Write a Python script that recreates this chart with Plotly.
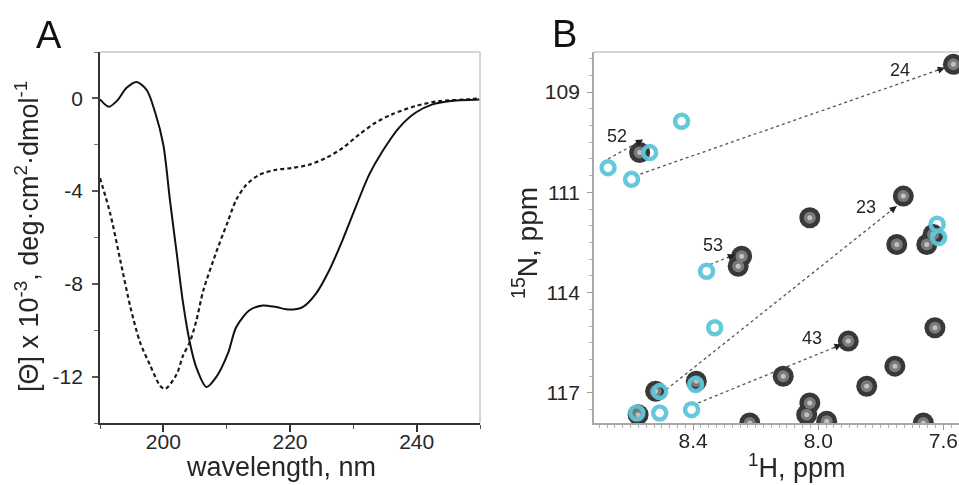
import math
import plotly.graph_objects as go

# ---------------- Panel A: far-UV CD spectra ----------------
WL_SOLID = [190, 191.4, 192.7, 194.2, 195.8, 197.4, 198.7, 200, 201.05, 202.1, 203.1, 204.2,
            205.2, 206.8, 208.4, 210.2, 211.5, 213.6, 215.7, 217.8, 219.9, 222, 224.1, 226.2,
            228.3, 230.4, 232.5, 234.6, 237.2, 239.8, 242.5, 245.1, 250]
THETA_SOLID = [-0.04, -0.36, -0.1, 0.46, 0.71, 0.35, -0.6, -2.0, -4.4, -6.65, -8.8, -10.55,
               -11.6, -12.45, -12.0, -11.0, -9.87, -9.14, -8.93, -9.0, -9.11, -9.0, -8.42, -7.41,
               -6.11, -4.67, -3.29, -2.28, -1.27, -0.62, -0.26, -0.12, -0.05]

WL_DASHED = [190, 191.6, 193.2, 194.8, 196.3, 197.9, 199.5, 200.3, 202.1, 203.1, 204.2, 205.2,
             206.3, 208.4, 210.2, 211.5, 213.1, 215.2, 217.8, 220.4, 223.0, 225.7, 228.3, 230.9,
             233.5, 236.1, 239.8, 243.5, 247.7, 250]
THETA_DASHED = [-3.44, -4.95, -6.98, -9.0, -10.5, -11.5, -12.4, -12.53, -11.9, -11.1, -10.5,
                -9.6, -8.3, -6.6, -5.3, -4.38, -3.73, -3.29, -3.08, -3.0, -2.86, -2.57, -2.14,
                -1.56, -1.05, -0.69, -0.33, -0.12, -0.05, 0.0]

CD_X_TICKS = [200, 220, 240]
CD_Y_TICKS = [0, -4, -8, -12]
CD_Y_TICK_TEXT = ["0", "-4", "-8", "-12"]

# ---------------- Panel B: 1H-15N HSQC overlay ----------------
BLACK_H = [7.568, 8.571, 7.728, 8.027, 7.749, 7.653, 7.633, 8.245, 8.256, 7.627, 7.904, 7.755,
           8.112, 7.845, 8.390, 8.520, 8.576, 8.027, 8.037, 7.973, 8.219, 7.664]
BLACK_N = [107.17, 109.81, 111.11, 111.76, 112.56, 112.56, 112.26, 112.91, 113.21, 115.05,
           115.45, 116.2, 116.5, 116.8, 116.65, 116.95, 117.65, 117.3, 117.65, 117.85, 117.9, 117.9]

CYAN_H = [8.437, 8.539, 8.672, 8.597, 7.620, 7.615, 8.357, 8.331, 8.507, 8.392, 8.405, 8.580, 8.507]
CYAN_N = [108.87, 109.81, 110.26, 110.61, 111.95, 112.35, 113.36, 115.05, 116.96, 116.75,
          117.5, 117.6, 117.6]

RESIDUES = ["24", "52", "53", "23", "43"]
FROM_H = [8.587, 8.672, 8.346, 8.486, 8.384]
FROM_N = [110.51, 110.0, 113.16, 116.9, 117.30]
TO_H = [7.595, 8.560, 8.266, 7.749, 7.925]
TO_N = [107.27, 109.42, 112.86, 111.41, 115.55]
LABEL_H = [7.739, 8.644, 8.337, 7.846, 8.02]
LABEL_N = [107.33, 109.32, 112.56, 111.43, 115.35]

H_TICKS = [8.4, 8.0, 7.6]
H_TICK_TEXT = ["8.4", "8.0", "7.6"]
N_TICKS = [108, 111, 114, 117]
N_TICK_TEXT = ["109", "111", "114", "117"]

# ---------------- geometry / style ----------------
W, H = 959, 485
FONT = "Liberation Sans, Arial, sans-serif"
TXT = "#262626"
CYAN = "#5ec7da"

A_X = [100 / W, 480 / W]
B_X = [594 / W, 1.0]
Y_DOM = [(H - 423) / H, (H - 52) / H]

H_RANGE = [8.717, 7.55]
N_RANGE = [117.9, 106.8]

fig = go.Figure()

fig.add_trace(go.Scatter(x=WL_DASHED, y=THETA_DASHED, mode="lines", xaxis="x", yaxis="y",
                         line=dict(color="#1a1a1a", width=2.2, dash="4px,3px", shape="spline",
                                   smoothing=0.8), hoverinfo="skip"))
fig.add_trace(go.Scatter(x=WL_SOLID, y=THETA_SOLID, mode="lines", xaxis="x", yaxis="y",
                         line=dict(color="#111111", width=2, shape="spline", smoothing=0.8),
                         hoverinfo="skip"))

# dotted connectors between corresponding peaks
for i in range(len(RESIDUES)):
    fig.add_trace(go.Scatter(x=[FROM_H[i], TO_H[i]], y=[FROM_N[i], TO_N[i]], mode="lines",
                             xaxis="x2", yaxis="y2",
                             line=dict(color="#555555", width=1.3, dash="dot"),
                             hoverinfo="skip"))

# black spectrum: dark contour rim, grey interior, pale core
for size, col in [(21, "#383838"), (12, "#7a7a7a"), (5, "#c2c2c2")]:
    fig.add_trace(go.Scatter(x=BLACK_H, y=BLACK_N, mode="markers", xaxis="x2", yaxis="y2",
                             marker=dict(size=size, color=col, line=dict(width=0)),
                             hoverinfo="skip"))

# cyan spectrum: open contour rings
fig.add_trace(go.Scatter(x=CYAN_H, y=CYAN_N, mode="markers", xaxis="x2", yaxis="y2",
                         marker=dict(symbol="circle-open", size=13, color=CYAN,
                                     line=dict(width=4.5, color=CYAN)),
                         opacity=0.95, hoverinfo="skip"))

annotations = []

# arrowheads at the end of each connector
px_per_h = (B_X[1] - B_X[0]) * W / abs(H_RANGE[0] - H_RANGE[1])
px_per_n = (Y_DOM[1] - Y_DOM[0]) * H / abs(N_RANGE[0] - N_RANGE[1])
for i in range(len(RESIDUES)):
    dx = (FROM_H[i] - TO_H[i]) * px_per_h
    dy = (TO_N[i] - FROM_N[i]) * px_per_n
    L = math.hypot(dx, dy)
    annotations.append(dict(x=TO_H[i], y=TO_N[i], xref="x2", yref="y2",
                            ax=-dx / L * 10, ay=-dy / L * 10, showarrow=True,
                            arrowhead=2, arrowsize=1.1, arrowwidth=1.3,
                            arrowcolor="#222222", standoff=0, text=""))
    annotations.append(dict(x=LABEL_H[i], y=LABEL_N[i], xref="x2", yref="y2",
                            text=RESIDUES[i], showarrow=False,
                            xanchor="center", yanchor="middle",
                            font=dict(family=FONT, size=18, color=TXT)))


def paper_text(x, y, text, size, color=TXT, angle=0):
    return dict(x=x / W, y=1 - y / H, xref="paper", yref="paper", text=text,
                showarrow=False, xanchor="center", yanchor="middle", textangle=angle,
                font=dict(family=FONT, size=size, color=color))


# panel letters and axis titles
annotations += [
    paper_text(49, 35, "A", 38, "#111"),
    paper_text(564, 34, "B", 38, "#111"),
    paper_text(281, 467, "wavelength, nm", 27),
    paper_text(27, 237, "[Θ] x 10<sup>-3</sup>, deg·cm<sup>2</sup>·dmol<sup>-1</sup>", 27,
               angle=-90),
    paper_text(797, 466, "<sup>1</sup>H, ppm", 27),
    paper_text(525, 243, "<sup>15</sup>N, ppm", 28, angle=-90),
]

# light frame edges (top/right of A, top of B)
shapes = [
    dict(type="line", xref="x domain", yref="y domain", x0=0, x1=1, y0=1, y1=1,
         line=dict(color="#c8c8c8", width=1.5)),
    dict(type="line", xref="x domain", yref="y domain", x0=1, x1=1, y0=0, y1=1,
         line=dict(color="#c8c8c8", width=1.5)),
    dict(type="line", xref="x2 domain", yref="y2 domain", x0=0, x1=1, y0=1, y1=1,
         line=dict(color="#c8c8c8", width=1.5)),
]

tickfont = dict(family=FONT, size=21, color=TXT)

fig.update_layout(
    width=W, height=H, margin=dict(l=0, r=0, t=0, b=0),
    paper_bgcolor="white", plot_bgcolor="white", showlegend=False,
    annotations=annotations, shapes=shapes,
    xaxis=dict(domain=A_X, anchor="y", range=[190, 250], tickvals=CD_X_TICKS,
               showgrid=False, zeroline=False, showline=True, linecolor="#333", linewidth=1.8,
               ticks="outside", ticklen=7, tickwidth=1.8, tickcolor="#333",
               ticklabelstandoff=-8, tickfont=tickfont,
               minor=dict(ticks="outside", dtick=10, tick0=190, ticklen=4, tickcolor="#555",
                          tickwidth=1.2, showgrid=False)),
    yaxis=dict(domain=Y_DOM, anchor="x", range=[-14, 2], tickvals=CD_Y_TICKS,
               ticktext=CD_Y_TICK_TEXT, showgrid=False, zeroline=False, showline=True,
               linecolor="#333", linewidth=1.8, ticks="outside", ticklen=6, tickwidth=1.5,
               tickcolor="#555", ticklabelstandoff=5, tickfont=tickfont,
               minor=dict(ticks="outside", dtick=2, tick0=0, ticklen=4, tickcolor="#777",
                          tickwidth=1, showgrid=False)),
    xaxis2=dict(domain=B_X, anchor="y2", range=H_RANGE, tickvals=H_TICKS,
                ticktext=H_TICK_TEXT,
                showgrid=False, zeroline=False, showline=True, linecolor="#a8a8a8",
                linewidth=1.8, ticks="outside", ticklen=5, tickwidth=1.2, tickcolor="#999",
                ticklabelstandoff=-7, tickfont=tickfont,
                minor=dict(ticks="outside", dtick=0.025, tick0=8.4, ticklen=3,
                           tickcolor="#b0b0b0", tickwidth=1, showgrid=False)),
    yaxis2=dict(domain=Y_DOM, anchor="x2", range=N_RANGE, tickvals=N_TICKS,
                ticktext=N_TICK_TEXT, showgrid=False, zeroline=False, showline=True,
                linecolor="#a8a8a8", linewidth=1.8, ticks="outside", ticklen=5, tickwidth=1.2,
                tickcolor="#999", ticklabelstandoff=3, tickfont=tickfont,
                minor=dict(ticks="outside", dtick=0.5, tick0=108, ticklen=3,
                           tickcolor="#b0b0b0", tickwidth=1, showgrid=False)),
)

fig.write_html("out.html")
